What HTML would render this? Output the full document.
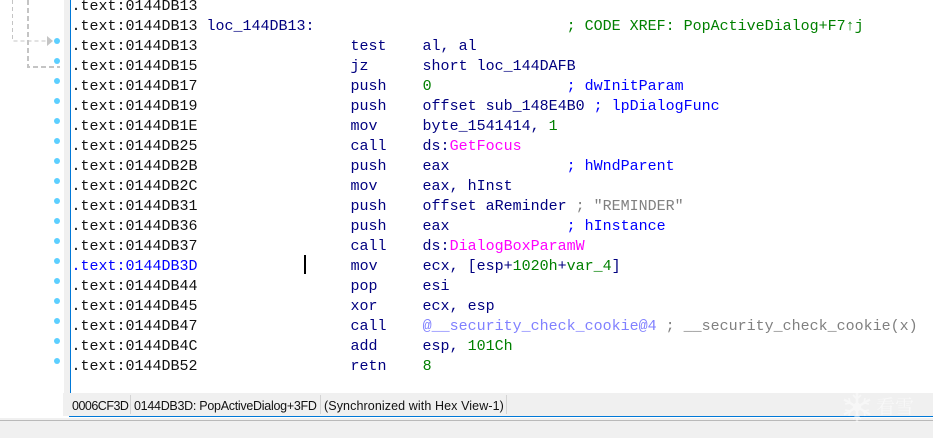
<!DOCTYPE html>
<html><head><meta charset="utf-8"><style>
html,body{margin:0;padding:0;width:933px;height:438px;overflow:hidden;background:#fff}
.l{position:absolute;left:71.5px;height:20px;font:15px/20px "Liberation Mono",monospace;white-space:pre;color:#111;margin-top:2px}
.n{color:#000080}.g{color:#008000}.b{color:#0000ff}.m{color:#ff00ff}.y{color:#808080}.s{color:#8080ff}.a{color:#0000ff}
.d{position:absolute;left:54px;width:6px;height:6px;border-radius:50%;background:#5ccfff}
.r{position:absolute}
.st{position:absolute;top:394px;height:23px;font:12.5px/24px "Liberation Sans",sans-serif;color:#111;white-space:pre}
.sep{position:absolute;top:395px;width:1px;height:19px;background:#d4d4d4}
</style></head><body>
<div class="r" style="left:64px;top:0;width:6px;height:393px;background:#f0f0f0"></div>
<div class="r" style="left:70px;top:0;width:1px;height:393px;background:#0078d7"></div>
<div class="r" style="left:63px;top:393px;width:870px;height:23px;background:#f0f0f0"></div>
<div class="r" style="left:0;top:418px;width:933px;height:20px;background:#f0f0f0"></div>
<div class="r" style="left:69px;top:416px;width:864px;height:1px;background:#0078d7"></div>
<div class="r" style="left:0;top:420px;width:933px;height:1px;background:#b9b9b9"></div>

<svg class="r" style="left:0;top:0" width="64" height="75">
<path d="M12.5 0V41H48" fill="none" stroke="#c4c4c4" stroke-dasharray="4 3"/>
<path d="M47 36L53 41L47 46Z" fill="#c4c4c4"/>
<path d="M28 0V67H60" fill="none" stroke="#c4c4c4" stroke-width="2" stroke-dasharray="5 3"/>
</svg>

<div class="d" style="top:38px"></div><div class="d" style="top:58px"></div><div class="d" style="top:78px"></div><div class="d" style="top:98px"></div><div class="d" style="top:118px"></div><div class="d" style="top:138px"></div><div class="d" style="top:158px"></div><div class="d" style="top:178px"></div><div class="d" style="top:198px"></div><div class="d" style="top:218px"></div><div class="d" style="top:238px"></div><div class="d" style="top:258px"></div><div class="d" style="top:278px"></div><div class="d" style="top:298px"></div><div class="d" style="top:318px"></div><div class="d" style="top:338px"></div><div class="d" style="top:358px"></div>

<div class="l" style="top:-5px">.text:0144DB13</div>
<div class="l" style="top:15px">.text:0144DB13 <span class="n">loc_144DB13:</span>                            <span class="g">; CODE XREF: PopActiveDialog+F7↑j</span></div>
<div class="l" style="top:35px">.text:0144DB13                 <span class="n">test    al, al</span></div>
<div class="l" style="top:55px">.text:0144DB15                 <span class="n">jz      short loc_144DAFB</span></div>
<div class="l" style="top:75px">.text:0144DB17                 <span class="n">push    </span><span class="g">0</span>               <span class="b">; dwInitParam</span></div>
<div class="l" style="top:95px">.text:0144DB19                 <span class="n">push    offset sub_148E4B0 </span><span class="b">; lpDialogFunc</span></div>
<div class="l" style="top:115px">.text:0144DB1E                 <span class="n">mov     byte_1541414, </span><span class="g">1</span></div>
<div class="l" style="top:135px">.text:0144DB25                 <span class="n">call    ds:</span><span class="m">GetFocus</span></div>
<div class="l" style="top:155px">.text:0144DB2B                 <span class="n">push    eax</span>             <span class="b">; hWndParent</span></div>
<div class="l" style="top:175px">.text:0144DB2C                 <span class="n">mov     eax, hInst</span></div>
<div class="l" style="top:195px">.text:0144DB31                 <span class="n">push    offset aReminder </span><span class="y">; "REMINDER"</span></div>
<div class="l" style="top:215px">.text:0144DB36                 <span class="n">push    eax</span>             <span class="b">; hInstance</span></div>
<div class="l" style="top:235px">.text:0144DB37                 <span class="n">call    ds:</span><span class="m">DialogBoxParamW</span></div>
<div class="l" style="top:255px"><span class="a">.text:0144DB3D</span>                 <span class="n">mov     ecx, [esp+</span><span class="g">1020h</span><span class="n">+</span><span class="g">var_4</span><span class="n">]</span></div>
<div class="l" style="top:275px">.text:0144DB44                 <span class="n">pop     esi</span></div>
<div class="l" style="top:295px">.text:0144DB45                 <span class="n">xor     ecx, esp</span></div>
<div class="l" style="top:315px">.text:0144DB47                 <span class="n">call    </span><span class="s">@__security_check_cookie@4</span><span class="y"> ; __security_check_cookie(x)</span></div>
<div class="l" style="top:335px">.text:0144DB4C                 <span class="n">add     esp, </span><span class="g">101Ch</span></div>
<div class="l" style="top:355px">.text:0144DB52                 <span class="n">retn    </span><span class="g">8</span></div>

<div class="r" style="left:304px;top:255px;width:2px;height:19px;background:#000"></div>

<div class="st" style="left:72px;letter-spacing:-.5px">0006CF3D</div>
<div class="sep" style="left:130px"></div>
<div class="st" style="left:134px;letter-spacing:-.28px">0144DB3D: PopActiveDialog+3FD</div>
<div class="sep" style="left:320px"></div>
<div class="st" style="left:324px;letter-spacing:.1px">(Synchronized with Hex View-1)</div>
<div class="sep" style="left:506px"></div>

<svg class="r" style="left:840px;top:390px" width="34" height="34" opacity="0.5">
<g stroke="#fff" stroke-width="2.4" fill="none" transform="translate(17 17)">
<path d="M0 -15V15M-13 -7.5L13 7.5M13 -7.5L-13 7.5"/>
<circle r="3"/>
<path stroke-width="1.6" d="M-4 -12L0 -8L4 -12M-4 12L0 8L4 12M-12 -3L-7 -4L-8 -9M12 3L7 4L8 9M-12 3L-7 4L-8 9M12 -3L7 -4L8 -9"/>
</g></svg>
<div class="r" style="left:876px;top:394px;font:19px/24px 'Noto Serif CJK SC',serif;color:#fff;opacity:.55;white-space:pre">看雪</div>
</body></html>
